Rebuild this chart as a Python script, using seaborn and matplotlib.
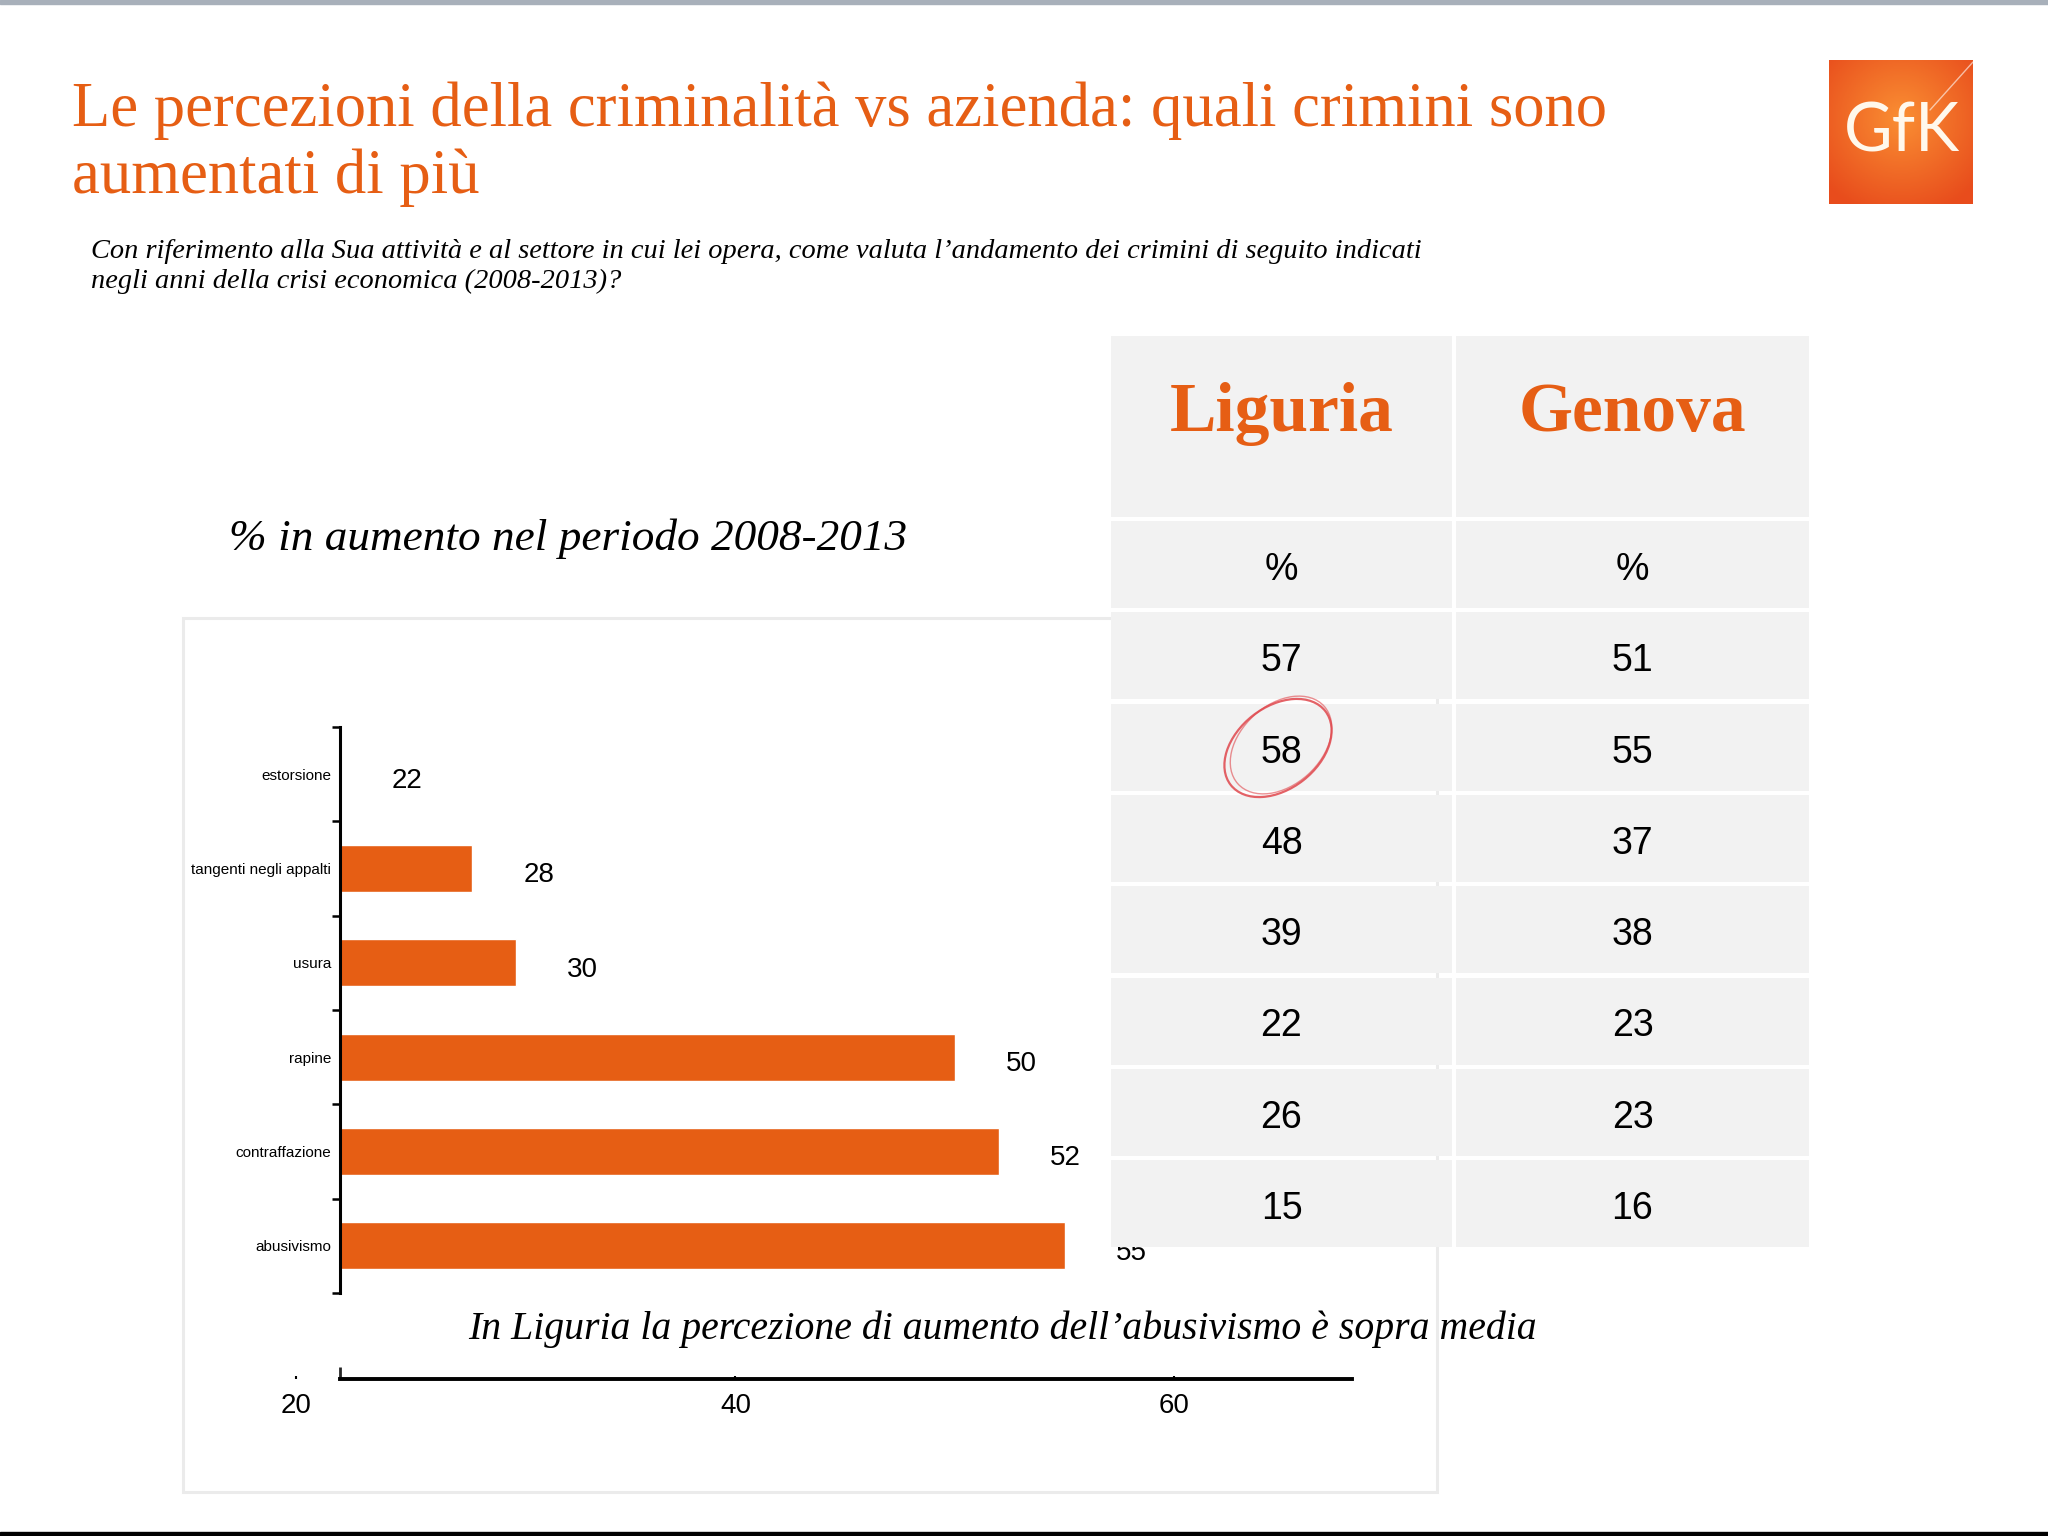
import numpy as np
import matplotlib.pyplot as plt
import pandas as pd
import seaborn as sns
from matplotlib.patches import Rectangle, Ellipse
from matplotlib.ticker import FixedLocator

# dati del grafico
categorie = ['estorsione', 'tangenti negli appalti', 'usura', 'rapine',
             'contraffazione', 'abusivismo']
aumento = [22, 28, 30, 50, 52, 55]
x_ticks = [20, 40, 60]

# tabella a destra
colonne = ['Liguria', 'Genova']
liguria = ['%', '57', '58', '48', '39', '22', '26', '15']
genova = ['%', '51', '55', '37', '38', '23', '23', '16']

titolo = ['Le percezioni della criminalità vs azienda: quali crimini sono',
          'aumentati di più']
domanda = ['Con riferimento alla Sua attività e al settore in cui lei opera, come valuta l’andamento dei crimini di seguito indicati',
           'negli anni della crisi economica (2008-2013)?']
sottotitolo = '% in aumento nel periodo 2008-2013'
nota = 'In Liguria la percezione di aumento dell’abusivismo è sopra media'

ORANGE = '#E65E14'
W, H = 2048, 1536
BASE = 22

sns.set_theme(style='white')
plt.rcParams['font.family'] = ['Liberation Sans', 'DejaVu Sans']

fig = plt.figure(figsize=(W / 100, H / 100), dpi=100)
renderer = fig.canvas.get_renderer()


def box(l, t, r, b):
    return [l / W, 1 - b / H, (r - l) / W, (b - t) / H]


def pixel_axes(z):
    a = fig.add_axes([0, 0, 1, 1], zorder=z)
    a.set_xlim(0, W)
    a.set_ylim(H, 0)
    a.axis('off')
    return a


def fit(a, x, y, s, width, **kw):
    t = a.text(x, y, s, **kw)
    bb = t.get_window_extent(renderer)
    t.set_fontsize(t.get_fontsize() * width / bb.width)
    return t


bg = pixel_axes(0)
bg.add_patch(Rectangle((0, 0), W, 4, color='#a8b0ba'))
bg.add_patch(Rectangle((0, 1532), W, 4, color='black'))
bg.add_patch(Rectangle((183, 618), 1254, 874, fill=False, edgecolor='#ebebeb', lw=2.2))

t = fit(bg, 72, 126, titolo[0], 1531, color=ORANGE, family='Liberation Serif',
        fontsize=40, va='baseline')
bg.text(72, 193, titolo[1], color=ORANGE, family='Liberation Serif',
        fontsize=t.get_fontsize(), va='baseline')

t = fit(bg, 91, 258, domanda[0], 1331, family='Liberation Serif', style='italic',
        fontsize=16, va='baseline', color='black')
bg.text(91, 288, domanda[1], family='Liberation Serif', style='italic',
        fontsize=t.get_fontsize(), va='baseline', color='black')

fit(bg, 229, 550, sottotitolo, 678, family='Liberation Serif', style='italic',
    fontsize=28, va='baseline', color='black')

# grafico a barre
ax = fig.add_axes(box(296.5, 727, 1352, 1293), zorder=1)
ax.patch.set_alpha(0)
df = pd.DataFrame({'crimine': categorie, 'perc': aumento})
sns.barplot(data=df, x='perc', y='crimine', orient='h', color=ORANGE,
            saturation=1, width=0.5, ax=ax)
for p in ax.patches:
    w = p.get_width()
    p.set_x(BASE)
    p.set_width(w - BASE)

ax.set_xlim(20, 68.1)
ax.set_ylim(5.5, -0.5)
ax.set_xlabel('')
ax.set_ylabel('')
for s in ['top', 'right']:
    ax.spines[s].set_visible(False)
ax.spines['left'].set_position(('data', BASE))
ax.spines['left'].set_linewidth(2.2)
ax.spines['left'].set_color('black')
ax.spines['bottom'].set_position(('outward', 62))
ax.spines['bottom'].set_bounds(BASE, 68.1)
ax.spines['bottom'].set_linewidth(2.8)
ax.spines['bottom'].set_color('black')

ax.set_xticks(x_ticks)
ax.set_xticklabels([str(v) for v in x_ticks])
ax.xaxis.set_minor_locator(FixedLocator([BASE]))
ax.tick_params(axis='x', which='major', bottom=True, length=2, width=1.5,
               direction='in', pad=10, labelsize=20, colors='black')
ax.tick_params(axis='x', which='minor', bottom=True, length=9, width=2, direction='in')
ax.yaxis.set_minor_locator(FixedLocator(np.arange(-0.5, 6, 1)))
ax.tick_params(axis='y', which='major', left=True, length=0, pad=6.5,
               labelsize=11, labelcolor='black')
ax.tick_params(axis='y', which='minor', left=True, length=6, width=1.8,
               direction='out', color='black')

for i, v in enumerate(aumento):
    ax.annotate(str(v), (v, i), xytext=(37, -5), textcoords='offset points',
                va='center', ha='left', fontsize=20, color='black',
                annotation_clip=False)

# tabella e logo sopra il grafico
ov = pixel_axes(3)
cols_x = [(1111, 1452), (1456, 1809)]
for j, (l, r) in enumerate(cols_x):
    ov.add_patch(Rectangle((l, 336), r - l, 181, color='#f2f2f2', lw=0))
    ov.text((l + r) / 2, 431, colonne[j], family='Liberation Serif',
            weight='bold', color=ORANGE, fontsize=50, ha='center', va='baseline')
    valori = liguria if j == 0 else genova
    for k, val in enumerate(valori):
        top = 521 + k * 91.3
        ov.add_patch(Rectangle((l, top), r - l, 87, color='#f2f2f2', lw=0))
        ov.text((l + r) / 2, top + 59, val, fontsize=27, ha='center',
                va='baseline', color='black')

# cerchio rosso attorno a 58
ov.add_patch(Ellipse((1278, 748), 120, 82, angle=-38, fill=False,
                     edgecolor='#e0474c', lw=1.6, alpha=0.85))
ov.add_patch(Ellipse((1281, 745), 116, 80, angle=-42, fill=False,
                     edgecolor='#e0474c', lw=1.0, alpha=0.6))

# logo GfK
yy, xx = np.mgrid[-1:1:64j, -1:1:64j]
r = np.clip(np.sqrt(xx ** 2 + (yy + 0.2) ** 2) / 1.4, 0, 1)[..., None]
c1 = np.array([0.98, 0.56, 0.20])
c2 = np.array([0.91, 0.30, 0.11])
ov.imshow(c1 * (1 - r) + c2 * r, extent=(1829, 1973, 204, 60), aspect='auto', zorder=1)
ov.plot([1930, 1973], [110, 62], color='white', lw=1, alpha=0.6, zorder=2)
ov.text(1902, 132, 'GfK', color='#fff8ec', family='Lato', weight='normal',
        fontsize=48, ha='center', va='center', zorder=3)
ov.set_xlim(0, W)
ov.set_ylim(H, 0)

fit(ov, 468, 1339, nota, 1071, family='Liberation Serif', style='italic',
    fontsize=28, va='baseline', color='black')

fig.savefig('out.png', dpi=100)
